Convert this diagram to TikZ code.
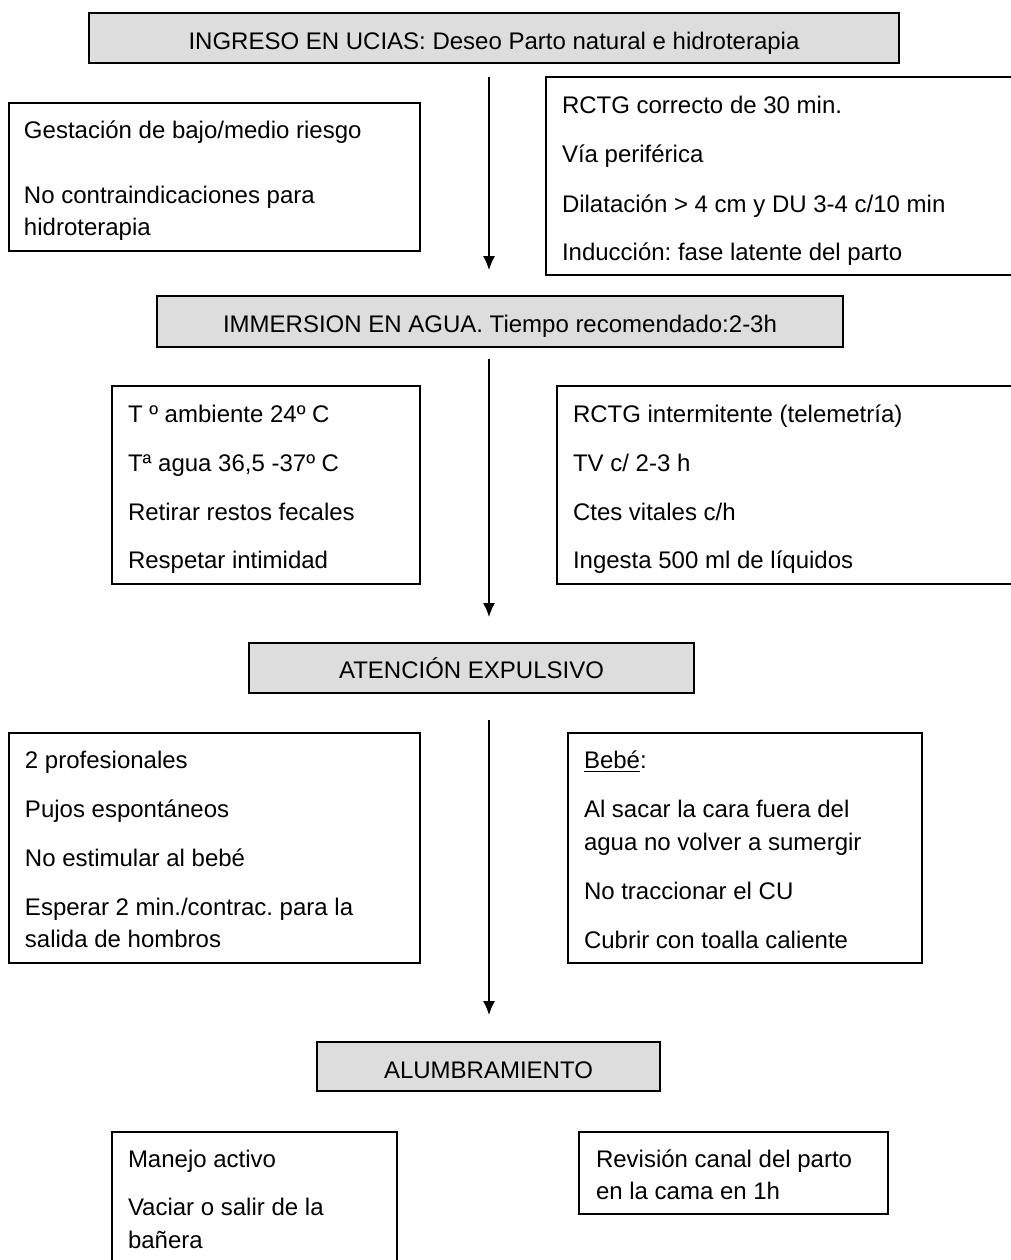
\documentclass[tikz,border=0pt]{standalone}
\usepackage{fontspec}
\setmainfont{Liberation Sans}
\usetikzlibrary{arrows.meta}
\definecolor{boxgray}{RGB}{221,221,221}
\frenchspacing
\tikzset{
  base/.style={inner sep=0pt, outer sep=0pt, line width=0.6pt},
  titlebox/.style={base, draw=black, fill=boxgray, anchor=north west},
  infobox/.style={base, draw=black, fill=white, anchor=north west},
  txt/.style={inner sep=0pt, outer sep=0pt, anchor=base west, font=\fontsize{12pt}{16pt}\selectfont\frenchspacing},
  ctxt/.style={txt, anchor=base},
  flow/.style={line width=0.6pt, -{Latex[length=7pt,width=6pt]}}
}
\begin{document}
\begin{tikzpicture}[x=0.5pt, y=-0.5pt]
\useasboundingbox (0,0) rectangle (1011,1260);
\clip (0,0) rectangle (1011,1260);

% ---- Level 1
\node[titlebox, minimum width=405pt, minimum height=25pt] (b1) at (89,13) {};
\node[ctxt] (b1t) at (494,49) {INGRESO EN UCIAS: Deseo Parto natural e hidroterapia};

\node[infobox, minimum width=205.5pt, minimum height=74pt] (l1) at (9,103) {};
\node[txt] (l1a) at (24,138) {Gestación de bajo/medio riesgo};
\node[txt] (l1b) at (24,203) {No contraindicaciones para};
\node[txt] (l1c) at (24,235) {hidroterapia};

\node[infobox, minimum width=240pt, minimum height=99pt] (r1) at (546,77) {};
\node[txt] (r1a) at (562,113) {RCTG correcto de 30 min.};
\node[txt] (r1b) at (562,162) {Vía periférica};
\node[txt] (r1c) at (562,212) {Dilatación > 4 cm y DU 3-4 c/10 min};
\node[txt] (r1d) at (562,260) {Inducción: fase latente del parto};

\coordinate (a1s) at (489,77);
\coordinate (a1e) at (489,270);
\draw[flow] (a1s) -- (a1e);

% ---- Level 2
\node[titlebox, minimum width=343pt, minimum height=25.5pt] (b2) at (157,296) {};
\node[ctxt] (b2t) at (500,332) {IMMERSION EN AGUA. Tiempo recomendado:2-3h};

\node[infobox, minimum width=154pt, minimum height=99pt] (l2) at (112,386) {};
\node[txt] (l2a) at (128,422) {T º ambiente 24º C};
\node[txt] (l2b) at (128,471) {Tª agua 36,5 -37º C};
\node[txt] (l2c) at (128,520) {Retirar restos fecales};
\node[txt] (l2d) at (128,568) {Respetar intimidad};

\node[infobox, minimum width=236pt, minimum height=99pt] (r2) at (557,386) {};
\node[txt] (r2a) at (573,422) {RCTG intermitente (telemetría)};
\node[txt] (r2b) at (573,471) {TV c/ 2-3 h};
\node[txt] (r2c) at (573,520) {Ctes vitales c/h};
\node[txt] (r2d) at (573,568) {Ingesta 500 ml de líquidos};

\coordinate (a2s) at (489,359);
\coordinate (a2e) at (489,617);
\draw[flow] (a2s) -- (a2e);

% ---- Level 3
\node[titlebox, minimum width=222.5pt, minimum height=25pt] (b3) at (249,643) {};
\node[ctxt] (b3t) at (471.5,678) {ATENCIÓN EXPULSIVO};

\node[infobox, minimum width=205.5pt, minimum height=115pt] (l3) at (9,733) {};
\node[txt] (l3a) at (25,768) {2 profesionales};
\node[txt] (l3b) at (25,817) {Pujos espontáneos};
\node[txt] (l3c) at (25,866) {No estimular al bebé};
\node[txt] (l3d) at (25,915) {Esperar 2 min./contrac. para la};
\node[txt] (l3e) at (25,947) {salida de hombros};

\node[infobox, minimum width=177pt, minimum height=115pt] (r3) at (568,733) {};
\node[txt] (r3a) at (584,768) {\underline{Bebé}:};
\node[txt] (r3b) at (584,817) {Al sacar la cara fuera del};
\node[txt] (r3c) at (584,850) {agua no volver a sumergir};
\node[txt] (r3d) at (584,899) {No traccionar el CU};
\node[txt] (r3e) at (584,948) {Cubrir con toalla caliente};

\coordinate (a3s) at (489,720);
\coordinate (a3e) at (489,1015);
\draw[flow] (a3s) -- (a3e);

% ---- Level 4
\node[titlebox, minimum width=171.5pt, minimum height=24.5pt] (b4) at (317,1042) {};
\node[ctxt] (b4t) at (488.5,1078) {ALUMBRAMIENTO};

\node[infobox, minimum width=142.5pt, minimum height=72pt] (l4) at (112,1132) {};
\node[txt] (l4a) at (128,1167) {Manejo activo};
\node[txt] (l4b) at (128,1215) {Vaciar o salir de la};
\node[txt] (l4c) at (128,1248) {bañera};

\node[infobox, minimum width=154.5pt, minimum height=41pt] (r4) at (579,1132) {};
\node[txt] (r4a) at (596,1167) {Revisión canal del parto};
\node[txt] (r4b) at (596,1199) {en la cama en 1h};
\end{tikzpicture}
\end{document}
